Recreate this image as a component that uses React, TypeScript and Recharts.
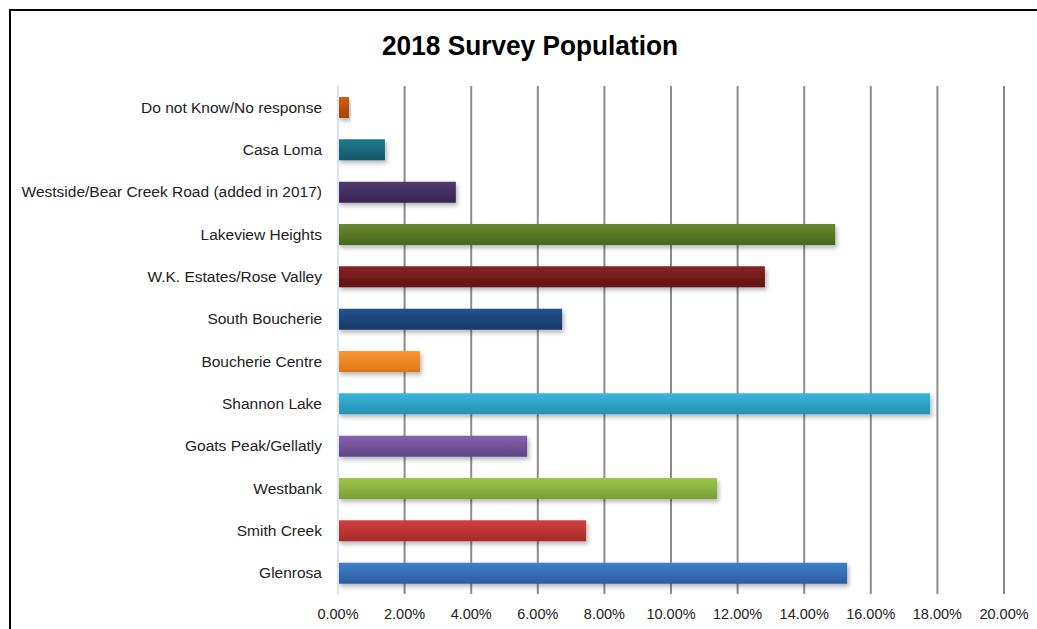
import React from 'react';
import { BarChart, Bar, XAxis, YAxis, CartesianGrid, Cell } from 'recharts';

const categories = [
  'Do not Know/No response',
  'Casa Loma',
  'Westside/Bear Creek Road (added in 2017)',
  'Lakeview Heights',
  'W.K. Estates/Rose Valley',
  'South Boucherie',
  'Boucherie Centre',
  'Shannon Lake',
  'Goats Peak/Gellatly',
  'Westbank',
  'Smith Creek',
  'Glenrosa',
];

const values = [0.33, 1.41, 3.54, 14.93, 12.82, 6.73, 2.46, 17.78, 5.68, 11.38, 7.45, 15.29];

const topColors = ['#d65b0c', '#207b8e', '#503a74', '#66892f', '#872424', '#23528c', '#fb9633', '#37b6da', '#8462b0', '#9dc54b', '#d2403e', '#3f7ecb'];
const bottomColors = ['#a84300', '#14566a', '#372452', '#48691c', '#5f1212', '#163a68', '#de7516', '#2690b2', '#5f4684', '#77a032', '#a62a28', '#2d5d9e'];

const xTicks = [0, 2, 4, 6, 8, 10, 12, 14, 16, 18, 20];

const data = categories.map((name, i) => ({ name, value: values[i] }));

const font = '"Liberation Sans", Arial, sans-serif';

export default function App() {
  return (
    <div style={{ position: 'relative', width: 1037, height: 629, overflow: 'hidden', background: '#fff' }}>
      <style>{`body{margin:0;overflow:hidden;background:#fff;}`}</style>
      <div
        style={{
          position: 'absolute',
          left: 9,
          top: 9,
          width: 1200,
          height: 800,
          borderLeft: '2px solid #000',
          borderTop: '2px solid #000',
        }}
      />
      <svg width={1037} height={80} style={{ position: 'absolute', left: 0, top: 0 }}>
        <text
          x={530}
          y={55}
          textAnchor="middle"
          fontFamily={font}
          fontWeight="bold"
          fontSize={27}
          fill="#000"
          textLength={296}
          lengthAdjust="spacingAndGlyphs"
        >
          2018 Survey Population
        </text>
      </svg>
      <div style={{ position: 'absolute', left: 0, top: 0 }}>
        <BarChart
          width={1037}
          height={629}
          data={data}
          layout="vertical"
          margin={{ top: 86, right: 33, bottom: 0, left: 0 }}
        >
          <defs>
            {topColors.map((c, i) => (
              <linearGradient key={i} id={`g${i}`} x1="0" y1="0" x2="0" y2="1">
                <stop offset="0%" stopColor={c} />
                <stop offset="100%" stopColor={bottomColors[i]} />
              </linearGradient>
            ))}
            <filter id="shadow" x="-5%" y="-30%" width="115%" height="180%">
              <feDropShadow dx="2" dy="3" stdDeviation="2" floodColor="#000" floodOpacity="0.28" />
            </filter>
          </defs>
          <CartesianGrid horizontal={false} stroke="#8c8c8c" strokeWidth={2} />
          <XAxis
            type="number"
            domain={[0, 20]}
            ticks={xTicks}
            interval={0}
            tickFormatter={(v: number) => `${v.toFixed(2)}%`}
            axisLine={false}
            tickLine={false}
            tickSize={0}
            tickMargin={15}
            height={35}
            tick={{ fontFamily: font, fontSize: 14.5, fill: '#222' }}
          />
          <YAxis
            type="category"
            dataKey="name"
            width={338}
            interval={0}
            axisLine={{ stroke: '#dbe5f1', strokeWidth: 2 }}
            tickLine={false}
            tickSize={0}
            tickMargin={16}
            tick={{ fontFamily: font, fontSize: 15.5, fill: '#222' }}
          />
          <Bar dataKey="value" barSize={21} isAnimationActive={false} filter="url(#shadow)">
            {data.map((d, i) => (
              <Cell key={d.name} fill={`url(#g${i})`} />
            ))}
          </Bar>
        </BarChart>
      </div>
    </div>
  );
}
